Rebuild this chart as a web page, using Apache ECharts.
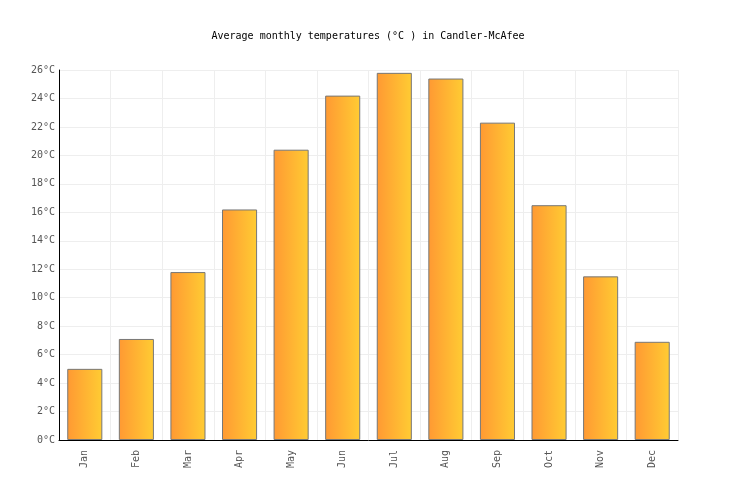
<!DOCTYPE html>
<html>
<head>
<meta charset="utf-8">
<script src="https://cdn.jsdelivr.net/npm/echarts@6/dist/echarts.min.js"></script>
<style>html,body{margin:0;padding:0;background:#fff;}#c{width:736px;height:500px;}</style>
</head>
<body>
<div id="c"></div>
<script>
var months = ['Jan','Feb','Mar','Apr','May','Jun','Jul','Aug','Sep','Oct','Nov','Dec'];
var temps = [5.0, 7.1, 11.8, 16.2, 20.4, 24.2, 25.8, 25.4, 22.3, 16.5, 11.5, 6.9];
var titleText = 'Average monthly temperatures (°C ) in Candler-McAfee';
var font = '"DejaVu Sans Mono", monospace';
var chart = echarts.init(document.getElementById('c'), null, {renderer: 'canvas'});
chart.setOption({
  animation: false,
  backgroundColor: '#fff',
  title: {
    text: titleText, left: 'center', top: 26,
    textStyle: {fontFamily: font, fontSize: 10, fontWeight: 'normal', color: '#000'}
  },
  grid: {left: 59, right: 58, top: 70, bottom: 60},
  xAxis: {
    type: 'category', data: months,
    axisLine: {lineStyle: {color: '#000', width: 1}},
    axisTick: {show: false},
    axisLabel: {rotate: 90, fontFamily: font, fontSize: 10, color: '#555', margin: 10},
    splitLine: {show: true, lineStyle: {color: '#eee', width: 1}}
  },
  yAxis: {
    type: 'value', min: 0, max: 26, interval: 2,
    axisLine: {show: true, lineStyle: {color: '#000', width: 1}},
    axisTick: {show: false},
    axisLabel: {formatter: '{value}°C', fontFamily: font, fontSize: 10, color: '#555', margin: 4},
    splitLine: {lineStyle: {color: '#eee', width: 1}}
  },
  series: [{
    type: 'bar', data: temps, barCategoryGap: '32%',
    itemStyle: {
      borderColor: '#777', borderWidth: 1,
      color: new echarts.graphic.LinearGradient(0, 0, 1, 0, [
        {offset: 0, color: '#FF9933'}, {offset: 1, color: '#FFCC33'}
      ])
    }
  }]
});
</script>
</body>
</html>
